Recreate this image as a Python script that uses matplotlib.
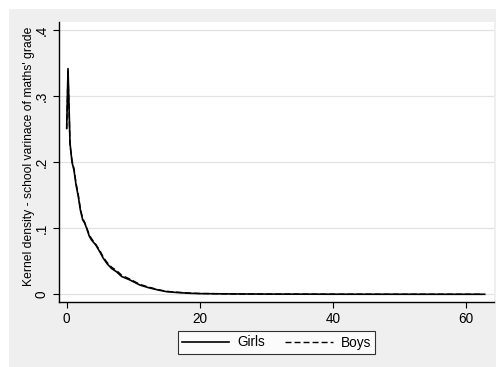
import matplotlib.pyplot as plt
from matplotlib.patches import Rectangle

plt.rcParams['font.family'] = ['Liberation Sans', 'DejaVu Sans']

# kernel density estimates
girls_x = [0, 0.2, 0.5, 0.8, 1.1, 1.4, 1.75, 2.05, 2.4, 2.7, 3.0, 3.4, 3.75,
           4.35, 5.0, 5.5, 6.1, 6.75, 7.5, 8.25, 9.5, 11, 12.3, 13.75, 15,
           16.8, 18.5, 20, 25, 30, 40, 50, 62.8]
girls_y = [0.252, 0.342, 0.229, 0.200, 0.188, 0.166, 0.148, 0.128, 0.113,
           0.108, 0.100, 0.088, 0.082, 0.075, 0.064, 0.0545, 0.046, 0.039,
           0.034, 0.027, 0.0217, 0.014, 0.010, 0.0065, 0.004, 0.0025, 0.0015,
           0.001, 0.0005, 0.0003, 0.0001, 0.00005, 0.0]
boys_x = [0, 0.2, 0.5, 0.8, 1.1, 1.4, 1.75, 2.05, 2.4, 2.7, 3.0, 3.4, 3.75,
          4.35, 5.0, 5.5, 6.1, 6.75, 7.5, 8.25, 9.5, 11, 12.3, 13.75, 15,
          16.8, 18.5, 20, 25, 30, 40, 50, 62.6]
boys_y = [0.250, 0.338, 0.226, 0.203, 0.190, 0.169, 0.150, 0.130, 0.115,
          0.109, 0.101, 0.090, 0.084, 0.076, 0.066, 0.056, 0.048, 0.041,
          0.036, 0.029, 0.023, 0.015, 0.011, 0.007, 0.0045, 0.003, 0.0018,
          0.0012, 0.0006, 0.0003, 0.0001, 0.00005, 0.0]

x_ticks = [0, 20, 40, 60]
y_ticks = [0, 0.1, 0.2, 0.3, 0.4]
y_labels = ['0', '.1', '.2', '.3', '.4']

fig = plt.figure(figsize=(4.96, 3.67), dpi=100)
fig.patch.set_facecolor('white')
fig.patches.append(Rectangle((9 / 496, 0), 1, 1 - 9 / 367, transform=fig.transFigure,
                             facecolor='#efefef', edgecolor='none', zorder=-10))

ax = fig.add_axes([58.5 / 496, 1 - 302 / 367, (494 - 58.5) / 496, (302 - 22) / 367])
ax.set_facecolor('white')

ax.plot(girls_x, girls_y, color='black', lw=1.2, label='Girls')
ax.plot(boys_x, boys_y, color='black', lw=1.0, ls=(0, (4.3, 2.2)), label='Boys')

ax.set_xlim(-1.23, 64.2)
ax.set_ylim(-0.0117, 0.4126)
ax.set_xticks(x_ticks)
ax.set_yticks(y_ticks)
ax.set_yticklabels(y_labels, rotation=90, va='center')
ax.grid(axis='y', color='#e2e2e2', lw=0.9)
ax.set_axisbelow(True)

for s in ['top', 'right']:
    ax.spines[s].set_visible(False)
for s in ['left', 'bottom']:
    ax.spines[s].set_linewidth(1.0)
ax.tick_params(direction='out', length=4, width=0.8, labelsize=9.8, pad=3)

ax.set_ylabel("Kernel density - school varinace of maths' grade", fontsize=8.7)
ax.yaxis.set_label_coords(-0.054, 0.52)

leg = fig.legend(loc='center', bbox_to_anchor=(276.5 / 496, 1 - 342.5 / 367), ncol=2,
                 frameon=True, fancybox=False, fontsize=9.8, handlelength=3.5,
                 columnspacing=1.45, handletextpad=0.6, borderpad=0.3,
                 borderaxespad=0)
leg.get_frame().set_edgecolor('black')
leg.get_frame().set_linewidth(0.8)

fig.savefig('out.png', dpi=100)
